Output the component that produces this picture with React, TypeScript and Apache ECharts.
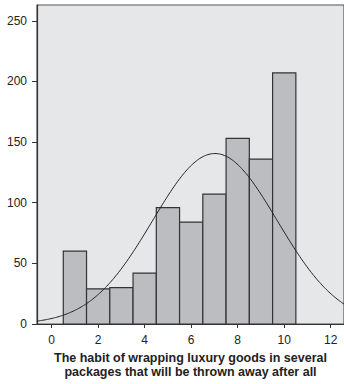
import React, { useEffect, useRef } from "react";
import * as echarts from "echarts";

const binCenters = [1, 2, 3, 4, 5, 6, 7, 8, 9, 10];
const counts = [60, 29, 30, 42, 96, 84, 107, 153, 136, 207];
const xTickValues = [0, 2, 4, 6, 8, 10, 12];
const yTickValues = [0, 50, 100, 150, 200, 250];
const xTitle = "The habit of wrapping luxury goods in several\npackages that will be thrown away after all";

const X_MIN = -0.63;
const X_MAX = 12.57;
const Y_MAX = 263;

export default function App() {
  const ref = useRef<HTMLDivElement>(null);
  useEffect(() => {
    if (!ref.current) return;
    const chart = echarts.init(ref.current, undefined, { renderer: "svg" });

    // Normal curve fitted to the histogram (mean, sd from the binned data)
    const n = counts.reduce((a, b) => a + b, 0);
    const mean = binCenters.reduce((s, x, i) => s + x * counts[i], 0) / n;
    const variance =
      binCenters.reduce((s, x, i) => s + counts[i] * (x - mean) ** 2, 0) / (n - 1);
    const sd = Math.sqrt(variance);
    const curve: number[][] = [];
    for (let x = X_MIN; x <= X_MAX + 0.001; x += 0.05) {
      const y = (n / (sd * Math.sqrt(2 * Math.PI))) * Math.exp(-0.5 * ((x - mean) / sd) ** 2);
      curve.push([x, y]);
    }

    const font = "'Liberation Sans', Arial, Helvetica, sans-serif";

    chart.setOption({
      animation: false,
      grid: {
        left: 37,
        top: 5,
        right: 0,
        bottom: 58,
        show: true,
        backgroundColor: "#e6e7e8",
        borderColor: "#555",
        borderWidth: 1.2,
      },
      xAxis: {
        type: "value",
        min: X_MIN,
        max: X_MAX,
        splitLine: { show: false },
        axisLine: { show: true, onZero: false, lineStyle: { color: "#333", width: 1.2 } },
        axisTick: { show: true, length: 4, customValues: xTickValues, lineStyle: { color: "#333" } },
        axisLabel: {
          customValues: xTickValues,
          color: "#222",
          fontSize: 12,
          fontFamily: font,
          margin: 10,
        },
        name: xTitle,
        nameLocation: "middle",
        nameGap: 27,
        nameTextStyle: {
          fontWeight: "bold",
          fontSize: 12.5,
          lineHeight: 14,
          color: "#222",
          fontFamily: font,
          align: "center",
        },
      },
      yAxis: {
        type: "value",
        min: 0,
        max: Y_MAX,
        splitLine: { show: false },
        axisLine: { show: true, onZero: false, lineStyle: { color: "#333", width: 1.2 } },
        axisTick: { show: true, length: 5, customValues: yTickValues, lineStyle: { color: "#333" } },
        axisLabel: {
          customValues: yTickValues,
          color: "#222",
          fontSize: 12,
          fontFamily: font,
          margin: 10,
        },
      },
      series: [
        {
          type: "custom",
          data: binCenters.map((x, i) => [x, counts[i]]),
          renderItem: (params: any, api: any) => {
            const x = api.value(0);
            const y = api.value(1);
            const p0 = api.coord([x - 0.5, y]);
            const p1 = api.coord([x + 0.5, 0]);
            return {
              type: "rect",
              shape: { x: p0[0], y: p0[1], width: p1[0] - p0[0], height: p1[1] - p0[1] },
              style: { fill: "#bcbdc0", stroke: "#333", lineWidth: 1.2 },
            };
          },
          z: 2,
        },
        {
          type: "line",
          data: curve,
          showSymbol: false,
          symbol: "none",
          smooth: false,
          clip: true,
          lineStyle: { color: "#222", width: 1 },
          z: 3,
        },
      ],
    });
    return () => chart.dispose();
  }, []);
  return (
    <div
      ref={ref}
      style={{ position: "fixed", left: 0, top: 0, width: 344, height: 384, background: "#fff" }}
    />
  );
}
